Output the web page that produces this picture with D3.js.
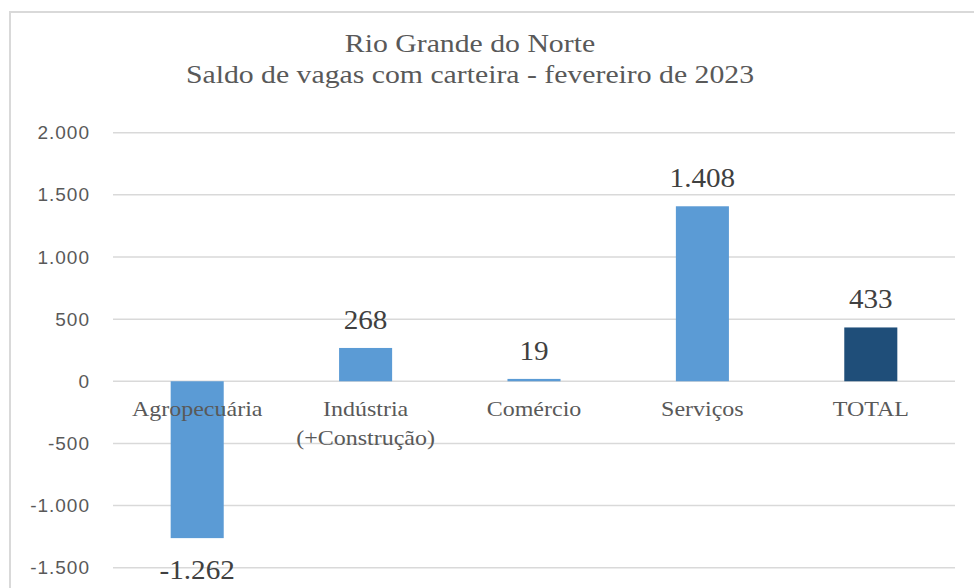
<!DOCTYPE html>
<html lang="pt">
<head>
<meta charset="UTF-8">
<script src="https://d3js.org/d3.v7.min.js"></script>
<style>
body { margin: 0; background: #fff; }
svg { display: block; }
.tick-label { font-family: "Liberation Sans", Arial, sans-serif; font-size: 19px; fill: #595959; letter-spacing: 1px; }
.cat-label { font-family: "Liberation Serif", "Times New Roman", serif; font-size: 20px; fill: #595959; }
.val-label { font-family: "Liberation Serif", "Times New Roman", serif; font-size: 27px; fill: #404040; }
.title { font-family: "Liberation Serif", "Times New Roman", serif; font-size: 25px; fill: #595959; }
</style>
</head>
<body>
<div id="chart"></div>
<script>
// data
const categories = ["Agropecuária", "Indústria\n(+Construção)", "Comércio", "Serviços", "TOTAL"];
const values = [-1262, 268, 19, 1408, 433];
const labels = ["-1.262", "268", "19", "1.408", "433"];
const yTicks = [-1500, -1000, -500, 0, 500, 1000, 1500, 2000];
const yTickLabels = ["-1.500", "-1.000", "-500", "0", "500", "1.000", "1.500", "2.000"];

const width = 974, height = 588;

// the serif text in the original is a bit wider than Liberation Serif
function stretch(cx, k) {
  return `translate(${cx},0) scale(${k},1) translate(${-cx},0)`;
}

const svg = d3.select("#chart").append("svg")
  .attr("width", width)
  .attr("height", height);

// chart frame (runs off the right and bottom edges)
svg.append("rect")
  .attr("x", 10).attr("y", 12)
  .attr("width", 1000).attr("height", 640)
  .attr("fill", "none")
  .attr("stroke", "#d9d9d9")
  .attr("stroke-width", 2);

// title
const title = svg.append("text").attr("class", "title")
  .attr("text-anchor", "middle")
  .attr("transform", stretch(470, 1.19));
title.append("tspan").attr("x", 470).attr("y", 52).text("Rio Grande do Norte");
title.append("tspan").attr("x", 470).attr("y", 83).text("Saldo de vagas com carteira - fevereiro de 2023");

const y = d3.scaleLinear()
  .domain([-1500, 2000])
  .range([567.7, 132.7]);

const x = d3.scaleBand()
  .domain(categories)
  .range([113, 955])
  .padding(0);

const barW = x.bandwidth() * 0.315;
const cx = c => x(c) + x.bandwidth() / 2;

// gridlines
svg.append("g")
  .selectAll("line")
  .data(yTicks)
  .join("line")
  .attr("x1", 113).attr("x2", 955)
  .attr("y1", d => y(d)).attr("y2", d => y(d))
  .attr("stroke", "#d9d9d9")
  .attr("stroke-width", 1.5);

// y tick labels
svg.append("g")
  .selectAll("text")
  .data(yTicks)
  .join("text")
  .attr("class", "tick-label")
  .attr("x", 90)
  .attr("y", d => y(d))
  .attr("dy", "0.35em")
  .attr("text-anchor", "end")
  .text((d, i) => yTickLabels[i]);

// bars
svg.append("g")
  .selectAll("rect")
  .data(values)
  .join("rect")
  .attr("x", (d, i) => x(categories[i]) + (x.bandwidth() - barW) / 2)
  .attr("width", barW)
  .attr("y", d => y(Math.max(0, d)))
  .attr("height", d => Math.abs(y(d) - y(0)))
  .attr("fill", (d, i) => i === categories.length - 1 ? "#1f4e79" : "#5b9bd5");

// category labels, drawn just below zero line
svg.append("g")
  .selectAll("text")
  .data(categories)
  .join("text")
  .attr("class", "cat-label")
  .attr("text-anchor", "middle")
  .attr("transform", d => stretch(cx(d), 1.2))
  .each(function(d) {
    const t = d3.select(this);
    d.split("\n").forEach((ln, k) => {
      t.append("tspan")
        .attr("x", cx(d))
        .attr("y", y(0) + 35 + k * 29)
        .text(ln);
    });
  });

// value labels
svg.append("g")
  .selectAll("text")
  .data(values)
  .join("text")
  .attr("class", "val-label")
  .attr("text-anchor", "middle")
  .attr("transform", (d, i) => stretch(cx(categories[i]), 1.08))
  .attr("x", (d, i) => cx(categories[i]))
  .attr("y", d => d >= 0 ? y(d) - 19 : y(d) + 41)
  .text((d, i) => labels[i]);
</script>
</body>
</html>
